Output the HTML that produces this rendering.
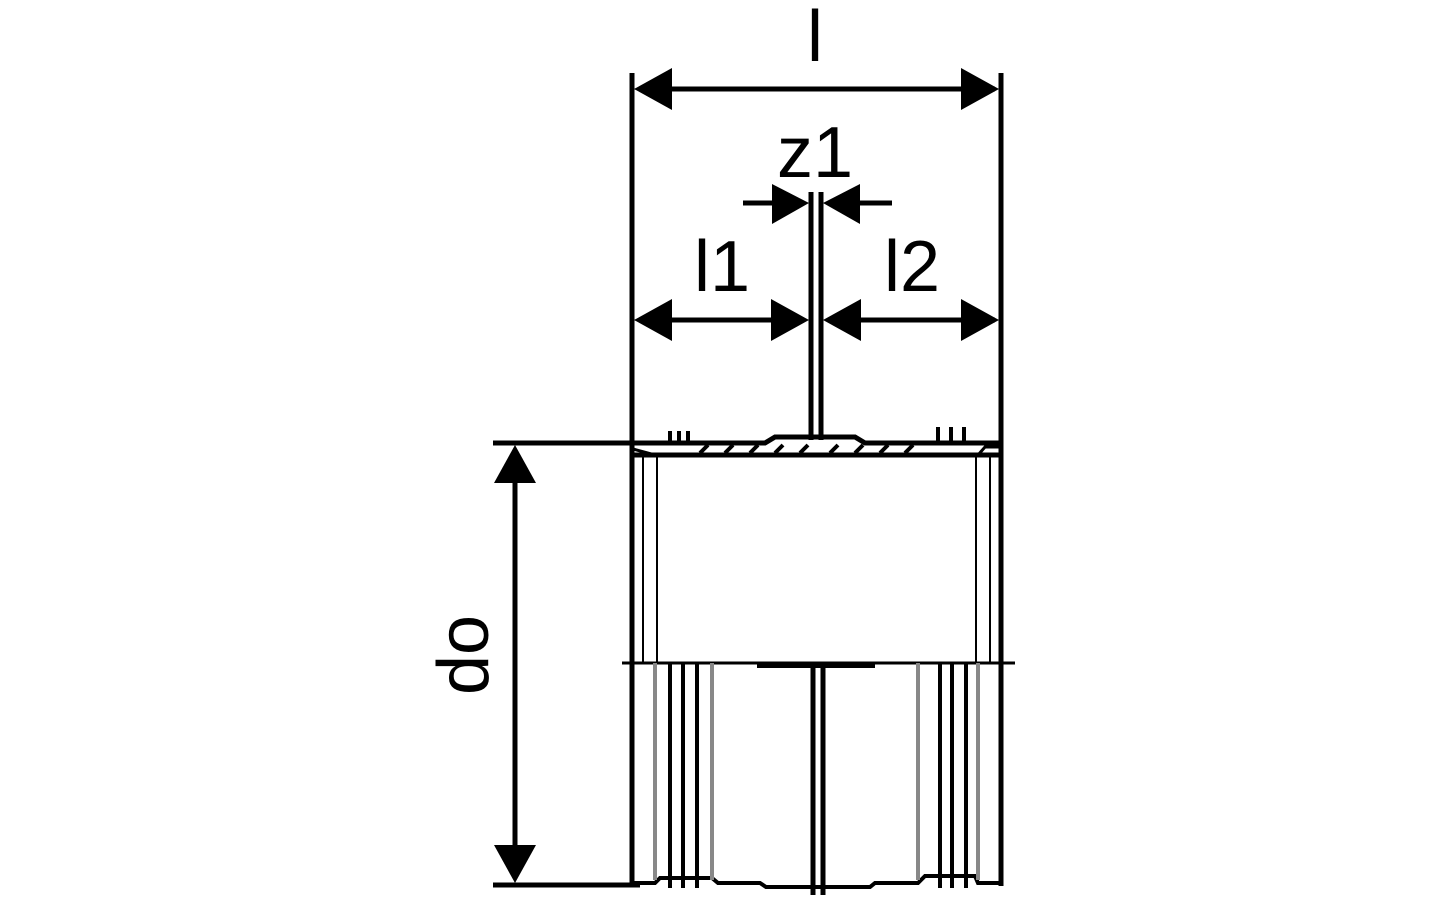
<!DOCTYPE html>
<html><head><style>html,body{margin:0;padding:0;background:#fff}svg{display:block}</style></head><body>
<svg width="1442" height="901" viewBox="0 0 1442 901" xmlns="http://www.w3.org/2000/svg">
<g font-family="Liberation Sans, sans-serif" font-size="72" fill="#000" text-anchor="middle">
<text x="815" y="61">l</text>
<text x="815" y="177">z1</text>
<text x="722" y="291">l1</text>
<text x="912" y="291">l2</text>
<text transform="translate(488,655) rotate(-90)" y="0">do</text>
</g>
<g stroke="#000" stroke-width="5" fill="none">
<line x1="632" y1="73" x2="632" y2="886"/>
<line x1="1001" y1="73" x2="1001" y2="886"/>
<line x1="640" y1="89" x2="995" y2="89"/>
<line x1="811" y1="192" x2="811" y2="440"/>
<line x1="821" y1="192" x2="821" y2="440"/>
<line x1="743" y1="203" x2="790" y2="203"/>
<line x1="842" y1="203" x2="892" y2="203"/>
<line x1="640" y1="320" x2="800" y2="320"/>
<line x1="830" y1="320" x2="995" y2="320"/>
<line x1="493" y1="443" x2="640" y2="443"/>
<line x1="493" y1="885" x2="640" y2="885"/>
<line x1="515" y1="470" x2="515" y2="860"/>
<line x1="622" y1="663" x2="1015" y2="663" stroke-width="3"/>
<path d="M632 443 L765 443 L775 437 L855 437 L865 443 L1001 443" />
<path d="M632 455 L1001 455" />
<path d="M633 449 L655 455 M1001 447 L985 447 L978 455" stroke-width="3"/>
<line x1="813" y1="663" x2="813" y2="895"/>
<line x1="823" y1="663" x2="823" y2="895"/>
<line x1="670" y1="663" x2="670" y2="888" stroke-width="4"/>
<line x1="683" y1="663" x2="683" y2="888" stroke-width="4"/>
<line x1="697" y1="663" x2="697" y2="888" stroke-width="4"/>
<line x1="940" y1="663" x2="940" y2="888" stroke-width="4"/>
<line x1="952" y1="663" x2="952" y2="888" stroke-width="4"/>
<line x1="966" y1="663" x2="966" y2="888" stroke-width="4"/>
<path d="M632 883 L655 883 L660 878 L712 878 L718 883 L760 883 L766 887 L870 887 L875 883 L918 883 L925 876 L975 876 L978 883 L1001 883" stroke-width="4"/>
<path d="M757 666 L875 666" stroke-width="4"/>
</g>
<g stroke="#000" stroke-width="2" fill="none">
<line x1="643" y1="455" x2="643" y2="663"/>
<line x1="657" y1="455" x2="657" y2="663"/>
<line x1="976" y1="455" x2="976" y2="663"/>
<line x1="990" y1="455" x2="990" y2="663"/>
<path d="M670 443 v-12 M679 443 v-12 M688 443 v-12 M938 443 v-16 M951 443 v-16 M964 443 v-16" stroke-width="4"/>
<path d="M700 453 l8 -8 M725 453 l8 -8 M750 453 l8 -8 M775 453 l8 -8 M800 453 l8 -8 M830 453 l8 -8 M855 453 l8 -8 M880 453 l8 -8 M905 453 l8 -8" stroke-width="4"/>
</g>
<g stroke="#888" stroke-width="4">
<line x1="655" y1="663" x2="655" y2="880"/>
<line x1="712" y1="663" x2="712" y2="880"/>
<line x1="918" y1="663" x2="918" y2="880"/>
<line x1="978" y1="663" x2="978" y2="880"/>
</g>
<g fill="#000">
<polygon points="634,89 672,68 672,110"/>
<polygon points="999,89 961,68 961,110"/>
<polygon points="809,203 772,184 772,224"/>
<polygon points="823,203 860,184 860,224"/>
<polygon points="634,320 672,299 672,341"/>
<polygon points="809,320 771,299 771,341"/>
<polygon points="823,320 861,299 861,341"/>
<polygon points="999,320 961,299 961,341"/>
<polygon points="515,445 494,483 536,483"/>
<polygon points="515,883 494,845 536,845"/>
</g>
</svg>
</body></html>
